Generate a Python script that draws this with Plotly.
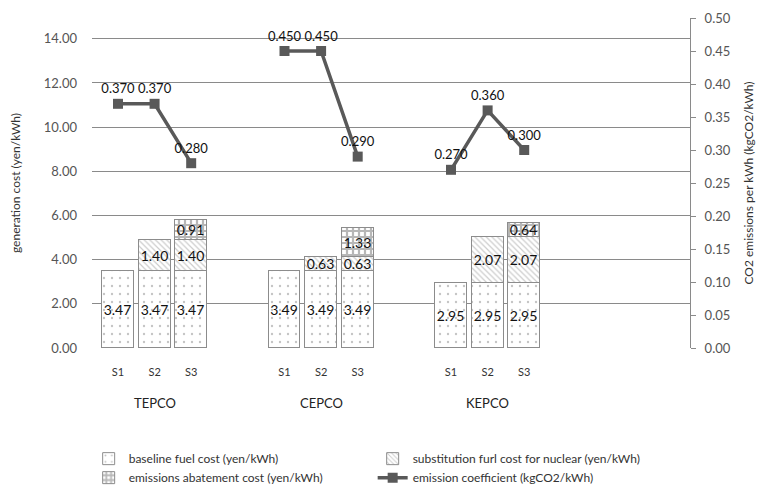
import plotly.graph_objects as go

groups = ["TEPCO", "CEPCO", "KEPCO"]
scenarios = ["S1", "S2", "S3"]
baseline = [3.47, 3.47, 3.47, 3.49, 3.49, 3.49, 2.95, 2.95, 2.95]
substitution = [None, 1.40, 1.40, None, 0.63, 0.63, None, 2.07, 2.07]
abatement = [None, None, 0.91, None, None, 1.33, None, None, 0.64]
emission = [0.370, 0.370, 0.280, 0.450, 0.450, 0.290, 0.270, 0.360, 0.300]
left_ticks = [0, 2, 4, 6, 8, 10, 12, 14]
right_ticks = [0, 0.05, 0.10, 0.15, 0.20, 0.25, 0.30, 0.35, 0.40, 0.45, 0.50]

group_gap = 4.55
xs = [gi * group_gap + si for gi in range(len(groups)) for si in range(len(scenarios))]
labels = [s for g in groups for s in scenarios]

FONT = "Lato"
EDGE = "#8c8c8c"

def fmt(vals, f="{:.2f}"):
    return [f.format(v) if v is not None else "" for v in vals]

fig = go.Figure()

def bar(name, vals, shape, size, solidity, fg):
    fig.add_trace(go.Bar(
        x=xs, y=vals, name=name, width=0.87,
        marker=dict(color="white", line=dict(color=EDGE, width=1),
                    pattern=dict(shape=shape, size=size, solidity=solidity,
                                 fgcolor=fg, bgcolor="white")),
        text=fmt(vals), textposition="inside", insidetextanchor="middle",
        insidetextfont=dict(color="#111111", size=14, family=FONT),
        textangle=0, cliponaxis=False, hoverinfo="skip",
    ))

bar("baseline fuel cost (yen/kWh)", baseline, ".", 8, 0.07, "#8a8a8a")
bar("substitution furl cost for nuclear (yen/kWh)", substitution, "\\", 4, 0.3, "#9a9a9a")
bar("emissions abatement cost (yen/kWh)", abatement, "+", 6, 0.6, "#707070")

# line with breaks between groups
lx, ly = [], []
for gi in range(len(groups)):
    for si in range(len(scenarios)):
        lx.append(xs[gi * 3 + si]); ly.append(emission[gi * 3 + si])
    lx.append(None); ly.append(None)

fig.add_trace(go.Scatter(
    x=lx, y=ly, yaxis="y2", name="emission coefficient (kgCO2/kWh)",
    mode="lines+markers+text",
    line=dict(color="#595959", width=3.5),
    marker=dict(symbol="square", size=10, color="#595959"),
    text=[("{:.3f}".format(v) if v is not None else None) for v in ly],
    textposition="top center", textfont=dict(size=13, color="#111111", family=FONT),
    connectgaps=False, hoverinfo="skip", cliponaxis=False,
))

for gi, g in enumerate(groups):
    fig.add_annotation(x=xs[gi * 3 + 1], y=0, xref="x", yref="paper", yshift=-55,
                       yanchor="middle", text=g, showarrow=False,
                       font=dict(size=13, color="#222222", family=FONT))

fig.update_layout(
    width=761, height=483,
    margin=dict(l=84, r=79, t=10, b=143, autoexpand=False),
    barmode="stack", bargap=0,
    plot_bgcolor="white", paper_bgcolor="white",
    font=dict(family=FONT, color="#444444", size=12),
    uniformtext=dict(minsize=14, mode="show"),
    xaxis=dict(range=[-0.71, 15.63], tickvals=xs, ticktext=labels, showgrid=False,
               zeroline=False, showline=False, ticks="", tickfont=dict(size=11, color="#333333"),
               ticklabelstandoff=16, automargin=False),
    yaxis=dict(range=[0, 14.94], tickvals=left_ticks, ticktext=["{:.2f}".format(v) for v in left_ticks],
               showgrid=True, gridcolor="#8a8a8a", gridwidth=1, zeroline=False, showline=False,
               title=dict(text="generation cost (yen/kWh)", font=dict(size=12, color="#333333"), standoff=24),
               tickfont=dict(size=13, color="#555555"), ticks="", ticklabelstandoff=14, automargin=False),
    yaxis2=dict(range=[0, 0.5], overlaying="y", side="right", tickvals=right_ticks,
                ticktext=["{:.2f}".format(v) for v in right_ticks], showgrid=False, zeroline=False,
                showline=True, linecolor="#8a8a8a", linewidth=1, ticks="outside", ticklen=5,
                tickcolor="#8a8a8a", automargin=False, ticklabelstandoff=6,
                title=dict(text="CO2 emissions per kWh (kgCO2/kWh)", font=dict(size=12, color="#333333"), standoff=14),
                tickfont=dict(size=13, color="#555555")),
    legend=dict(orientation="h", xref="container", yref="container", x=0.106, y=0.097,
                xanchor="left", yanchor="top",
                entrywidth=239, entrywidthmode="pixels", traceorder="normal",
                font=dict(size=12, color="#333333"), itemwidth=30),
    showlegend=True,
)

fig.write_html("out.html")
